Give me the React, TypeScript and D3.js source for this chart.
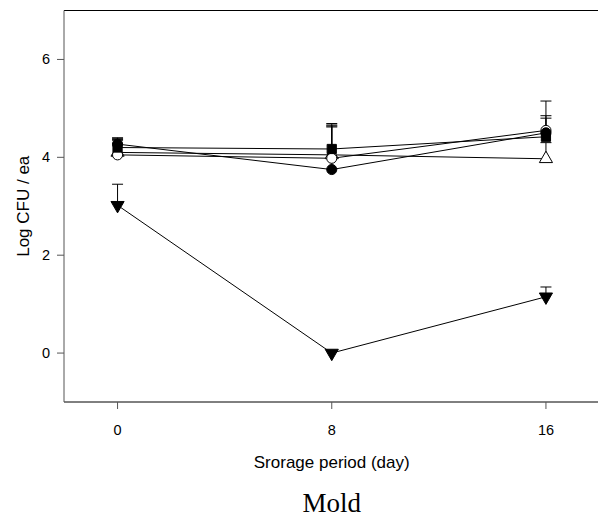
import React from "react";
import * as d3 from "d3";

const days = [0, 8, 16];
const filledCircle = [4.27, 3.75, 4.5];
const filledCircleErr = [4.4, 4.62, 5.15];
const openCircle = [4.05, 3.98, 4.55];
const openCircleErr = [4.35, 4.66, 4.85];
const filledSquare = [4.2, 4.17, 4.42];
const filledSquareErr = [4.38, 4.69, 4.8];
const openTriangle = [4.1, 4.05, 3.97];
const openTriangleErr = [4.36, 4.64, 4.3];
const filledTriDown = [3.02, 0, 1.15];
const filledTriDownErr = [3.45, 0, 1.35];

const yTicks = [0, 2, 4, 6];
const xTicks = [0, 8, 16];

type S = { vals: number[]; err: number[]; shape: string; fill: string };
const series: S[] = [
  { vals: openTriangle, err: openTriangleErr, shape: "triUp", fill: "white" },
  { vals: openCircle, err: openCircleErr, shape: "circle", fill: "white" },
  { vals: filledSquare, err: filledSquareErr, shape: "square", fill: "black" },
  { vals: filledCircle, err: filledCircleErr, shape: "circle", fill: "black" },
  { vals: filledTriDown, err: filledTriDownErr, shape: "triDown", fill: "black" },
];

export default function App() {
  const W = 598, H = 518;
  const x = d3.scaleLinear().domain([-2, 18]).range([64, 599.5]);
  const y = d3.scaleLinear().domain([-1, 7]).range([402, 10.5]);
  const line = d3.line<number>().x((_, i) => x(days[i])).y((v) => y(v));
  const sym = (shape: string) => {
    if (shape === "circle") return d3.symbol(d3.symbolCircle, 80)();
    if (shape === "square") return d3.symbol(d3.symbolSquare, 85)();
    return d3.symbol(d3.symbolTriangle, 75)();
  };
  return (
    <svg width={W} height={H} style={{ position: "absolute", left: 0, top: 0 }} fontFamily="Liberation Sans, Arial, sans-serif">
      <rect width={W} height={H} fill="white" />
      <line x1={64} x2={W} y1={10.5} y2={10.5} stroke="black" />
      <line x1={64} x2={W} y1={402} y2={402} stroke="black" />
      <line x1={64} x2={64} y1={10.5} y2={402} stroke="#555" />
      {yTicks.map((t) => (
        <g key={t}>
          <line x1={57} x2={64} y1={y(t)} y2={y(t)} stroke="#555" />
          <text x={50} y={y(t) + 5} fontSize={14.5} textAnchor="end">{t}</text>
        </g>
      ))}
      {xTicks.map((t) => (
        <g key={t}>
          <line x1={x(t)} x2={x(t)} y1={402} y2={409} stroke="#555" />
          <text x={x(t)} y={435} fontSize={14.5} textAnchor="middle">{t}</text>
        </g>
      ))}
      <text transform={`translate(29,${y(3)}) rotate(-90)`} fontSize={17} textAnchor="middle">Log CFU / ea</text>
      <text x={x(8)} y={468} fontSize={17} textAnchor="middle">Srorage period (day)</text>
      <text x={x(8)} y={512} fontSize={27} textAnchor="middle" fontFamily="Liberation Serif, Times New Roman, serif">Mold</text>
      {series.map((s, si) => (
        <path key={"l" + si} d={line(s.vals) || ""} fill="none" stroke="black" strokeWidth={1} />
      ))}
      {series.map((s, si) => (
        <g key={"e" + si}>
          {s.vals.map((v, i) =>
            s.err[i] > v ? (
              <g key={i}>
                <line x1={x(days[i])} x2={x(days[i])} y1={y(v)} y2={y(s.err[i])} stroke="black" />
                <line x1={x(days[i]) - 5.5} x2={x(days[i]) + 5.5} y1={y(s.err[i])} y2={y(s.err[i])} stroke="black" />
              </g>
            ) : null
          )}
        </g>
      ))}
      {series.map((s, si) => (
        <g key={"m" + si}>
          {s.vals.map((v, i) => (
            <path
              key={i}
              d={sym(s.shape) || ""}
              transform={`translate(${x(days[i])},${y(v)})${s.shape === "triDown" ? " rotate(180)" : ""}`}
              fill={s.fill}
              stroke="black"
              strokeWidth={1}
            />
          ))}
        </g>
      ))}
    </svg>
  );
}
